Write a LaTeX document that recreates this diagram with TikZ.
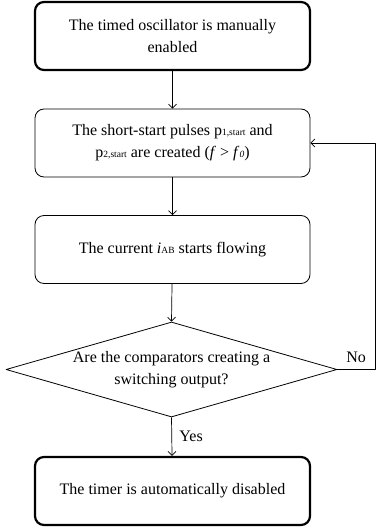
\documentclass[tikz,border=0pt]{standalone}
\usepackage{fontspec}
\setmainfont{Liberation Serif}
\usetikzlibrary{shapes.geometric,arrows.meta}
\newcommand{\lowtxt}[1]{{\fontsize{9.5}{9.5}\selectfont #1}}

\begin{document}
\begin{tikzpicture}[x=1pt,y=-1pt,line join=round,
  >={Straight Barb[length=4pt,width=8pt]},
  box/.style={draw,line width=0.8pt,rounded corners=9pt,minimum width=275pt,minimum height=68pt,
    inner sep=0pt,align=center,font=\fontsize{16}{22}\selectfont},
  endbox/.style={box,line width=2.2pt},
  decision/.style={draw,line width=0.8pt,diamond,aspect=3.484,minimum width=331pt,minimum height=95pt,
    inner sep=0pt,align=center,font=\fontsize{16}{22}\selectfont},
  flow/.style={->,line width=0.7pt},
  lbl/.style={font=\fontsize{16}{16}\selectfont}]
  \useasboundingbox (0,0) rectangle (376,527);

  % ---- process steps ----
  \node[endbox] (enable) at (172.5,36) {The timed oscillator is manually\\ enabled};
  \node[box] (pulses) at (172.5,143) {The short-start pulses p\lowtxt{1,start} and\\
    p\lowtxt{2,start} are created (\textit{f} > \textit{f}\lowtxt{\textit{0}})};
  \node[box] (current) at (172.5,249.5) {The current \textit{i}\lowtxt{AB} starts flowing};
  \node[decision] (check) at (171.5,369.5) {Are the comparators creating a\\ switching output?};
  \node[endbox] (disable) at (172.5,491) {The timer is automatically disabled};

  % ---- connectors ----
  \draw[flow] (enable) -- (pulses);
  \draw[flow] (pulses) -- (current);
  \draw[flow] (current) -- (check.north);
  \draw[flow] (check.south) -- node[lbl,right=4pt] {Yes} (disable);

  % feedback loop
  \coordinate (back) at (375,369.5);
  \draw[flow] (check.east) -- node[lbl,above=3pt] {No} (back) |- (pulses.east);
\end{tikzpicture}
\end{document}
